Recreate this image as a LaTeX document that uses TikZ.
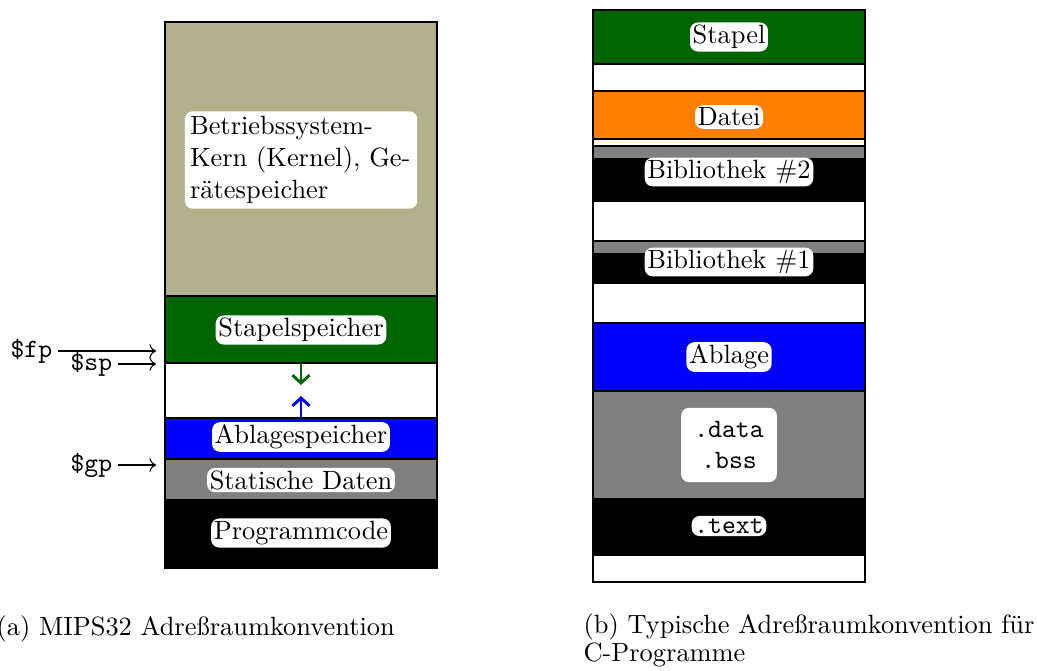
\documentclass[tikz,border=0pt]{standalone}
\usepackage{fontspec}
\usetikzlibrary{arrows.meta}
\definecolor{kernel}{RGB}{179,176,140}
\definecolor{stapel}{RGB}{0,100,0}
\definecolor{datei}{RGB}{255,128,0}
\tikzset{
  lbl/.style={fill=white, rounded corners=3pt, inner sep=1pt},
  reg/.style={font=\ttfamily, inner sep=2pt},
  growarrow/.style={-{Straight Barb[length=3pt,width=6.5pt]}, line width=1.1pt}
}
\begin{document}
\begin{tikzpicture}[x=0.3786pt, y=-0.3786pt]
\useasboundingbox (0,0) rectangle (1037,671);
% (a) MIPS32
\filldraw[fill=kernel] (165,22) rectangle (437,296);
\filldraw[fill=stapel] (165,296) rectangle (437,363);
\filldraw[fill=white] (165,363) rectangle (437,418);
\filldraw[fill=blue] (165,418) rectangle (437,459);
\filldraw[fill=gray] (165,459) rectangle (437,500);
\filldraw[fill=black] (165,500) rectangle (437,568);
\node[lbl, text width=84pt, align=left, inner sep=2pt] (kern) at (301,160)
  {Betriebssystem-\\Kern (Kernel), Ge-\\rätespeicher};
\node[lbl] (stack) at (301,330) {Stapelspeicher};
\node[lbl] (heap) at (301,437) {Ablagespeicher};
\node[lbl] (static) at (301,480) {Statische Daten};
\node[lbl] (code) at (301,533) {Programmcode};
% Wachstumsrichtung
\coordinate (stacktop) at (301,363);
\coordinate (stackend) at (301,385);
\coordinate (heaptop) at (301,418);
\coordinate (heapend) at (301,396);
\draw[growarrow, stapel] (stacktop) -- (stackend);
\draw[growarrow, blue] (heaptop) -- (heapend);
% Register
\node[reg, anchor=east] (fp) at (58,351) {\$fp};
\node[reg, anchor=east] (sp) at (118,364) {\$sp};
\node[reg, anchor=east] (gp) at (118,465) {\$gp};
\coordinate (fpat) at (156,351);
\coordinate (spat) at (156,364);
\coordinate (gpat) at (156,465);
\draw[->] (fp.east) -- (fpat);
\draw[->] (sp.east) -- (spat);
\draw[->] (gp.east) -- (gpat);
% (b) C-Programme
\filldraw[fill=white] (593,10) rectangle (865,582);
\filldraw[fill=stapel] (593,10) rectangle (865,64);
\filldraw[fill=datei] (593,91) rectangle (865,139);
\filldraw[fill=black] (593,146) rectangle (865,201);
\filldraw[fill=gray] (593,146) rectangle (865,159);
\filldraw[fill=black] (593,241) rectangle (865,283);
\filldraw[fill=gray] (593,241) rectangle (865,254);
\filldraw[fill=blue] (593,323) rectangle (865,391);
\filldraw[fill=gray] (593,391) rectangle (865,499);
\filldraw[fill=black] (593,499) rectangle (865,555);
\node[lbl] (cstack) at (729,37) {Stapel};
\node[lbl] (cfile) at (729,117) {Datei};
\node[lbl] (lib2) at (729,172) {Bibliothek \#2};
\node[lbl] (lib1) at (729,262) {Bibliothek \#1};
\node[lbl] (cheap) at (729,357) {Ablage};
\node[lbl, font=\ttfamily, align=center, inner sep=5pt] (cdata) at (729,445) {.data\\.bss};
\node[lbl, font=\ttfamily] (ctext) at (729,526) {.text};
% Unterschriften
\node[anchor=base west, inner sep=0pt] (capa) at (-4,635) {(a) MIPS32 Adreßraumkonvention};
\node[anchor=north west, align=left, inner sep=0pt] (capb) at (583,613)
  {(b) Typische Adreßraumkonvention für\\[-1.4pt]C-Programme};
\end{tikzpicture}
\end{document}
